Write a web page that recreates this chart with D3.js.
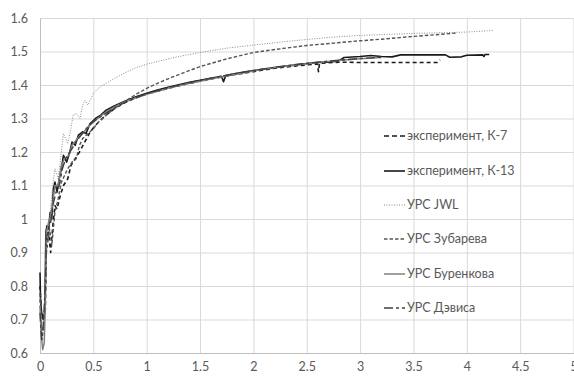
<!DOCTYPE html>
<html>
<head>
<meta charset="utf-8">
<script src="https://cdn.jsdelivr.net/npm/d3@7"></script>
<style>
  body { margin: 0; background: #fff; }
  svg text { font-family: Lato, "Open Sans", sans-serif; fill: #595959; }
  .grid line { stroke: #d9d9d9; stroke-width: 1; }
  .grid path { display: none; }
</style>
</head>
<body>
<div id="container"></div>
<script>
/* CONSTANTS */
const width = 574,
  height = 378,
  margin = { top: 18, right: 0.5, bottom: 25, left: 40 };

// tick values
const xTicks = [0, 0.5, 1, 1.5, 2, 2.5, 3, 3.5, 4, 4.5, 5];
const yTicks = [0.6, 0.7, 0.8, 0.9, 1, 1.1, 1.2, 1.3, 1.4, 1.5, 1.6];

// series names (legend order)
const seriesNames = ["эксперимент, К-7", "эксперимент, К-13", "УРС JWL", "УРС Зубарева", "УРС Буренкова", "УРС Дэвиса"];

// data: [x, y]
const k7 = [[0.0,0.80],[0.01,0.73],[0.03,0.71],[0.05,0.73],[0.06,0.93],[0.08,0.96],[0.1,0.9],[0.12,0.98],[0.14,1.04],[0.16,1.03],[0.19,1.07],[0.22,1.1],[0.26,1.12],[0.29,1.16],[0.33,1.18],[0.37,1.2],[0.42,1.23],[0.47,1.26],[0.52,1.28],[0.6,1.305],[0.7,1.33],[0.8,1.348],[0.9,1.362],[1.0,1.373],[1.2,1.39],[1.4,1.405],[1.6,1.418],[1.8,1.43],[2.0,1.44],[2.2,1.45],[2.4,1.457],[2.6,1.463],[2.61,1.44],[2.62,1.465],[2.8,1.468],[2.9,1.468],[3.0,1.467],[3.3,1.467],[3.5,1.467],[3.72,1.467],[3.75,1.475]];

const k13 = [[0,0.84],[0.005,0.76],[0.015,0.72],[0.03,0.70],[0.045,0.72],[0.055,0.96],[0.065,0.98],[0.08,0.97],[0.095,1.02],[0.11,1.0],[0.125,1.09],[0.14,1.11],[0.16,1.08],[0.18,1.12],[0.2,1.15],[0.22,1.19],[0.25,1.17],[0.28,1.2],[0.3,1.23],[0.33,1.22],[0.36,1.25],[0.4,1.26],[0.43,1.255],[0.47,1.285],[0.52,1.3],[0.57,1.31],[0.62,1.325],[0.7,1.338],[0.8,1.352],[0.9,1.365],[1.0,1.375],[1.1,1.385],[1.2,1.393],[1.3,1.401],[1.4,1.408],[1.5,1.414],[1.6,1.42],[1.7,1.426],[1.72,1.41],[1.74,1.428],[1.8,1.432],[1.9,1.438],[2.0,1.443],[2.1,1.448],[2.2,1.452],[2.3,1.456],[2.4,1.46],[2.5,1.464],[2.6,1.467],[2.7,1.468],[2.8,1.472],[2.85,1.482],[3.0,1.485],[3.1,1.488],[3.2,1.485],[3.3,1.484],[3.38,1.49],[3.6,1.49],[3.8,1.49],[3.84,1.483],[3.95,1.484],[4.0,1.489],[4.15,1.49],[4.16,1.485],[4.17,1.491],[4.21,1.491]];

const jwl = [[0.0,0.78],[0.02,0.66],[0.04,0.72],[0.06,0.95],[0.09,1.0],[0.12,1.1],[0.14,1.15],[0.17,1.12],[0.2,1.2],[0.22,1.255],[0.26,1.225],[0.29,1.27],[0.31,1.31],[0.34,1.315],[0.375,1.3],[0.4,1.34],[0.42,1.355],[0.45,1.34],[0.5,1.375],[0.53,1.385],[0.58,1.398],[0.62,1.405],[0.7,1.42],[0.8,1.437],[0.9,1.452],[1.0,1.462],[1.1,1.47],[1.2,1.478],[1.35,1.488],[1.5,1.497],[1.75,1.51],[2.0,1.519],[2.25,1.528],[2.5,1.536],[2.75,1.543],[3.0,1.548],[3.25,1.551],[3.5,1.554],[3.75,1.556],[4.0,1.558],[4.25,1.563]];

const zubarev = [[0.0,0.76],[0.02,0.64],[0.04,0.70],[0.06,0.90],[0.09,0.97],[0.11,0.92],[0.14,1.02],[0.17,1.06],[0.2,1.11],[0.23,1.13],[0.26,1.15],[0.3,1.17],[0.34,1.18],[0.37,1.22],[0.4,1.24],[0.45,1.255],[0.5,1.27],[0.55,1.29],[0.62,1.31],[0.7,1.33],[0.8,1.352],[0.9,1.372],[1.0,1.39],[1.1,1.405],[1.25,1.425],[1.5,1.455],[1.75,1.478],[2.0,1.497],[2.25,1.508],[2.5,1.518],[2.75,1.525],[3.0,1.532],[3.25,1.538],[3.5,1.545],[3.75,1.551],[3.9,1.555]];

const burenkov = [[0.0,0.74],[0.01,0.66],[0.025,0.61],[0.04,0.63],[0.05,0.75],[0.06,0.96],[0.08,0.99],[0.1,1.01],[0.12,1.05],[0.14,1.10],[0.17,1.1],[0.2,1.16],[0.23,1.18],[0.27,1.19],[0.3,1.22],[0.35,1.24],[0.4,1.255],[0.45,1.275],[0.5,1.29],[0.6,1.315],[0.7,1.335],[0.8,1.35],[0.9,1.362],[1.0,1.372],[1.2,1.39],[1.4,1.405],[1.6,1.418],[1.8,1.43],[2.0,1.442],[2.2,1.452],[2.4,1.46],[2.6,1.467],[2.8,1.473],[3.0,1.478],[3.2,1.482]];

const davis = [[0.0,0.72],[0.015,0.64],[0.03,0.68],[0.05,0.80],[0.06,0.94],[0.08,0.97],[0.1,0.99],[0.12,1.04],[0.15,1.08],[0.18,1.1],[0.21,1.15],[0.24,1.18],[0.28,1.2],[0.32,1.22],[0.36,1.24],[0.41,1.26],[0.46,1.28],[0.52,1.295],[0.6,1.312],[0.7,1.332],[0.8,1.349],[0.9,1.362],[1.0,1.374],[1.2,1.392],[1.4,1.407],[1.6,1.42],[1.8,1.432],[2.0,1.443],[2.2,1.453],[2.4,1.461],[2.6,1.468],[2.8,1.474],[3.0,1.479],[3.2,1.483]];

// line styles per series, same order as seriesNames
const styles = [
  { color: "#1a1a1a", width: 1.6, dash: "4,3", legendDash: "5,3" },
  { color: "#1a1a1a", width: 1.6, dash: null, legendDash: null },
  { color: "#8c8c8c", width: 1, dash: "1,1.5", legendDash: "1,1.5" },
  { color: "#555555", width: 1.4, dash: "3.5,2", legendDash: "3.5,2" },
  { color: "#7f7f7f", width: 1.5, dash: null, legendDash: null },
  { color: "#404040", width: 1.4, dash: "9,3,3,3", legendDash: "9,3,3,3" }
];

const seriesData = [k7, k13, jwl, zubarev, burenkov, davis];

/* SCALES */
const xScale = d3.scaleLinear().domain([0, 5]).range([margin.left, width - margin.right]);
const yScale = d3.scaleLinear().domain([0.6, 1.6]).range([height - margin.bottom, margin.top]);

const fmt = d => String(+d.toFixed(1));

/* SVG */
const svg = d3.select("#container")
  .append("svg")
  .attr("width", width)
  .attr("height", height);

// horizontal gridlines
svg.append("g")
  .attr("class", "grid")
  .attr("transform", `translate(${margin.left},0)`)
  .call(d3.axisLeft(yScale).tickValues(yTicks).tickSize(-(width - margin.left - margin.right)).tickFormat(""));

// vertical gridlines
svg.append("g")
  .attr("class", "grid")
  .attr("transform", `translate(0,${height - margin.bottom})`)
  .call(d3.axisBottom(xScale).tickValues(xTicks).tickSize(-(height - margin.top - margin.bottom)).tickFormat(""));

// axes (lines + labels)
const yAxisGroup = svg.append("g")
  .attr("transform", `translate(${margin.left},0)`)
  .call(d3.axisLeft(yScale).tickValues(yTicks).tickSize(0).tickPadding(12).tickFormat(fmt));
yAxisGroup.select(".domain").attr("stroke", "#bfbfbf");
yAxisGroup.selectAll("text").attr("font-size", 12.5).attr("fill", "#595959");

const xAxisGroup = svg.append("g")
  .attr("transform", `translate(0,${height - margin.bottom})`)
  .call(d3.axisBottom(xScale).tickValues(xTicks).tickSize(0).tickPadding(9).tickFormat(fmt));
xAxisGroup.select(".domain").attr("stroke", "#bfbfbf");
xAxisGroup.selectAll("text").attr("font-size", 12.5).attr("fill", "#595959");

/* LINES */
const lineGen = d3.line()
  .x(d => xScale(d[0]))
  .y(d => yScale(d[1]));

svg.selectAll("path.series")
  .data(seriesData)
  .join("path")
  .attr("class", "series")
  .attr("d", d => lineGen(d))
  .attr("fill", "none")
  .attr("stroke", (d, i) => styles[i].color)
  .attr("stroke-width", (d, i) => styles[i].width)
  .attr("stroke-dasharray", (d, i) => styles[i].dash)
  .attr("stroke-linejoin", "round");

/* LEGEND */
const legendY = [136, 171, 205, 239, 274, 308];
const legend = svg.append("g");
const items = legend.selectAll("g")
  .data(seriesNames)
  .join("g")
  .attr("transform", (d, i) => `translate(384,${legendY[i]})`);

items.append("line")
  .attr("x1", 0).attr("x2", 21)
  .attr("stroke", (d, i) => styles[i].color)
  .attr("stroke-width", (d, i) => styles[i].width)
  .attr("stroke-dasharray", (d, i) => styles[i].legendDash);

items.append("text")
  .attr("x", 23)
  .attr("dy", "0.35em")
  .attr("font-size", 12.5)
  .text(d => d);
</script>
</body>
</html>
